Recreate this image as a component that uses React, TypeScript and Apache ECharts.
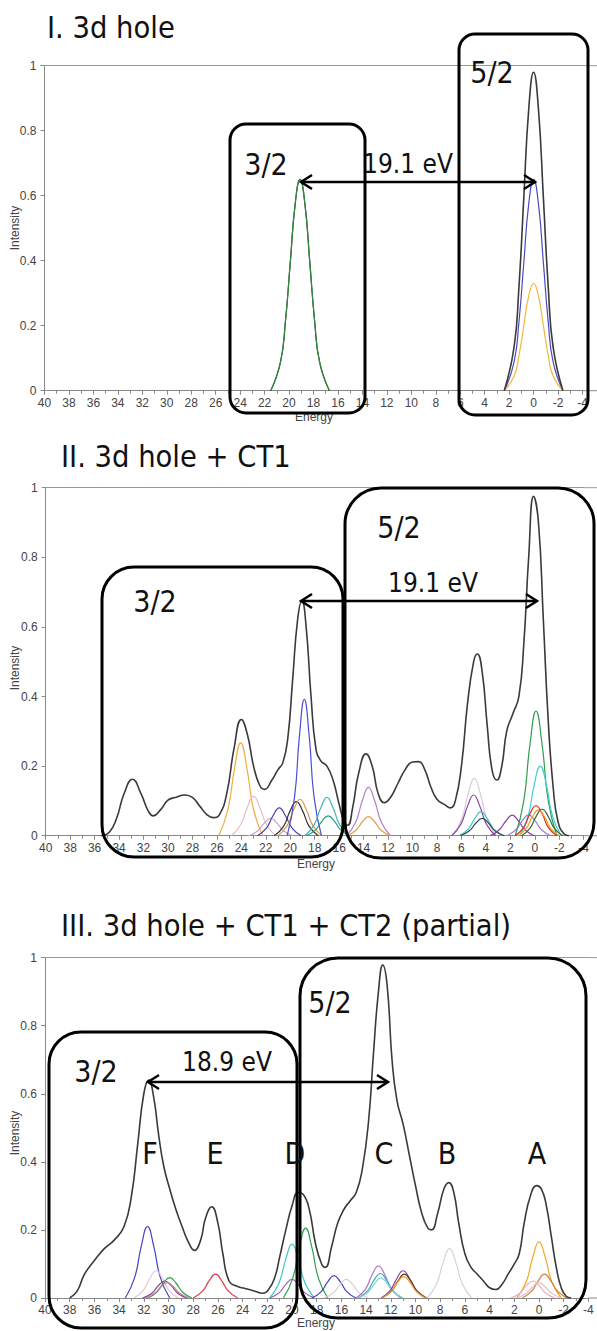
import React, { useEffect, useRef } from "react";
import * as echarts from "echarts";

// ---------- axis values ----------
const xMin = -4;
const xMax = 40;
const xInterval = 2;
const yMin = 0;
const yMax = 1;
const yInterval = 0.2;

// ---------- Panel I : 3d hole ----------
const I_black32 = [[21.5, 0], [20.7, 0.088], [20.3, 0.211], [19.9, 0.394], [19.5, 0.574], [19.1, 0.65], [18.7, 0.574], [18.3, 0.394], [17.9, 0.211], [17.5, 0.088], [16.7, 0]];
const I_green32 = [[21.5, 0], [20.7, 0.088], [20.3, 0.211], [19.9, 0.394], [19.5, 0.574], [19.1, 0.65], [18.7, 0.574], [18.3, 0.394], [17.9, 0.211], [17.5, 0.088], [16.7, 0]];
const I_black52 = [[2.4, 0], [1.6, 0.133], [1.2, 0.318], [0.8, 0.594], [0.4, 0.865], [0, 0.98], [-0.4, 0.865], [-0.8, 0.594], [-1.2, 0.318], [-1.6, 0.133], [-2.4, 0]];
const I_blue52 = [[2.4, 0], [1.6, 0.088], [1.2, 0.211], [0.8, 0.394], [0.4, 0.574], [0, 0.65], [-0.4, 0.574], [-0.8, 0.394], [-1.2, 0.211], [-1.6, 0.088], [-2.4, 0]];
const I_orange52 = [[2.4, 0], [1.6, 0.045], [1.2, 0.107], [0.8, 0.2], [0.4, 0.291], [0, 0.33], [-0.4, 0.291], [-0.8, 0.2], [-1.2, 0.107], [-1.6, 0.045], [-2.4, 0]];

// ---------- Panel II : 3d hole + CT1 ----------
const II_total = [
  [35.5, 0], [34.8, 0.01], [34.2, 0.05], [33.6, 0.12], [32.9, 0.162], [32.2, 0.12], [31.6, 0.07], [31.2, 0.057],
  [30.6, 0.075], [30.0, 0.102], [29.4, 0.11], [28.6, 0.117], [28.0, 0.11], [27.4, 0.085], [26.8, 0.06], [26.3, 0.052],
  [25.8, 0.06], [25.2, 0.12], [24.6, 0.25], [24.0, 0.334], [23.5, 0.29], [23.0, 0.2], [22.5, 0.145], [22.1, 0.133],
  [21.5, 0.16], [21.0, 0.19], [20.6, 0.21], [20.2, 0.28], [19.8, 0.45], [19.4, 0.62], [19.05, 0.675], [18.7, 0.6],
  [18.3, 0.4], [17.9, 0.25], [17.5, 0.215], [17.0, 0.2], [16.5, 0.16], [16.0, 0.09], [15.6, 0.04], [15.3, 0.03],
  [14.9, 0.08], [14.4, 0.18], [13.8, 0.235], [13.3, 0.2], [12.8, 0.12], [12.3, 0.095], [11.8, 0.11], [11.2, 0.15],
  [10.6, 0.19], [10.0, 0.212], [9.5, 0.213], [9.0, 0.19], [8.5, 0.14], [8.0, 0.105], [7.4, 0.09], [6.9, 0.08],
  [6.5, 0.1], [6.0, 0.2], [5.5, 0.38], [5.0, 0.5], [4.7, 0.522], [4.3, 0.47], [3.9, 0.32], [3.5, 0.19], [3.1, 0.16],
  [2.7, 0.2], [2.3, 0.3], [1.8, 0.35], [1.3, 0.4], [0.9, 0.55], [0.5, 0.8], [0.1, 0.975], [-0.3, 0.9], [-0.7, 0.62],
  [-1.1, 0.33], [-1.5, 0.14], [-1.9, 0.04], [-2.4, 0.005], [-2.8, 0],
];
const II_orange24 = [[25.85, 0], [25.1, 0.075], [24.55, 0.195], [24.05, 0.267], [23.55, 0.195], [23.0, 0.075], [22.25, 0]];
const II_pink23 = [[24.8, 0], [24.05, 0.032], [23.5, 0.082], [23.0, 0.113], [22.5, 0.082], [21.95, 0.032], [21.2, 0]];
const II_mauve21 = [[23.4, 0], [22.65, 0.014], [22.1, 0.037], [21.6, 0.05], [21.1, 0.037], [20.55, 0.014], [19.8, 0]];
const II_violet21 = [[22.7, 0], [21.95, 0.022], [21.4, 0.058], [20.9, 0.08], [20.4, 0.058], [19.85, 0.022], [19.1, 0]];
const II_dark19 = [[21.3, 0], [20.55, 0.027], [20.0, 0.072], [19.5, 0.098], [19.0, 0.072], [18.45, 0.027], [17.7, 0]];
const II_tan19 = [[21.0, 0], [20.25, 0.029], [19.7, 0.076], [19.2, 0.104], [18.7, 0.076], [18.15, 0.029], [17.4, 0]];
const II_blue19 = [[20.25, 0], [19.65, 0.11], [19.25, 0.286], [18.85, 0.392], [18.45, 0.286], [18.05, 0.11], [17.45, 0]];
const II_teal17 = [[18.8, 0], [18.05, 0.031], [17.5, 0.08], [17.0, 0.11], [16.5, 0.08], [15.95, 0.031], [15.2, 0]];
const II_seagreen17 = [[18.7, 0], [17.95, 0.016], [17.4, 0.042], [16.9, 0.057], [16.4, 0.042], [15.85, 0.016], [15.1, 0]];
const II_mauve14 = [[15.4, 0], [14.65, 0.039], [14.1, 0.101], [13.6, 0.139], [13.1, 0.101], [12.55, 0.039], [11.8, 0]];
const II_orange14 = [[15.4, 0], [14.65, 0.015], [14.1, 0.04], [13.6, 0.055], [13.1, 0.04], [12.55, 0.015], [11.8, 0]];
const II_grey5 = [[6.75, 0], [6.0, 0.046], [5.45, 0.12], [4.95, 0.165], [4.45, 0.12], [3.9, 0.046], [3.15, 0]];
const II_purple5 = [[6.8, 0], [6.05, 0.033], [5.5, 0.085], [5.0, 0.117], [4.5, 0.085], [3.95, 0.033], [3.2, 0]];
const II_cyan4 = [[6.2, 0], [5.45, 0.019], [4.9, 0.05], [4.4, 0.069], [3.9, 0.05], [3.35, 0.019], [2.6, 0]];
const II_darkteal4 = [[6.1, 0], [5.35, 0.014], [4.8, 0.037], [4.3, 0.05], [3.8, 0.037], [3.25, 0.014], [2.5, 0]];
const II_purple2 = [[3.65, 0], [2.9, 0.017], [2.35, 0.043], [1.85, 0.059], [1.35, 0.043], [0.8, 0.017], [0.05, 0]];
const II_violet0 = [[2.3, 0], [1.55, 0.017], [1.0, 0.044], [0.5, 0.06], [0.0, 0.044], [-0.55, 0.017], [-1.3, 0]];
const II_green0 = [[1.6, 0], [0.9, 0.1], [0.4, 0.261], [-0.1, 0.358], [-0.6, 0.261], [-1.1, 0.1], [-1.8, 0]];
const II_cyan0 = [[1.25, 0], [0.55, 0.056], [0.05, 0.146], [-0.45, 0.2], [-0.95, 0.146], [-1.45, 0.056], [-2.15, 0]];
const II_red0 = [[1.6, 0], [0.9, 0.024], [0.4, 0.063], [-0.1, 0.086], [-0.6, 0.063], [-1.1, 0.024], [-1.8, 0]];
const II_orange0 = [[1.4, 0], [0.7, 0.021], [0.2, 0.054], [-0.3, 0.074], [-0.8, 0.054], [-1.3, 0.021], [-2.0, 0]];
const II_darkgreen0 = [[1.1, 0], [0.4, 0.021], [-0.1, 0.055], [-0.6, 0.076], [-1.1, 0.055], [-1.6, 0.021], [-2.3, 0]];

// ---------- Panel III : 3d hole + CT1 + CT2 (partial) ----------
const III_total = [
  [38.0, 0], [37.4, 0.02], [36.8, 0.07], [36.0, 0.11], [35.2, 0.145], [34.4, 0.17], [33.6, 0.21], [33.0, 0.3],
  [32.5, 0.45], [32.0, 0.6], [31.6, 0.64], [31.2, 0.59], [30.8, 0.48], [30.4, 0.39], [29.9, 0.32], [29.4, 0.26],
  [28.9, 0.21], [28.4, 0.165], [27.9, 0.14], [27.4, 0.17], [27.0, 0.235], [26.5, 0.268], [26.0, 0.22], [25.6, 0.13],
  [25.1, 0.05], [24.5, 0.035], [23.8, 0.028], [23.0, 0.02], [22.4, 0.014], [21.9, 0.025], [21.4, 0.06], [21.0, 0.12],
  [20.5, 0.2], [20.0, 0.27], [19.5, 0.31], [19.1, 0.305], [18.6, 0.26], [18.1, 0.16], [17.6, 0.1], [17.3, 0.09],
  [16.8, 0.15], [16.3, 0.22], [15.8, 0.26], [15.3, 0.285], [14.8, 0.31], [14.3, 0.38], [13.8, 0.52], [13.4, 0.72],
  [13.0, 0.9], [12.65, 0.978], [12.3, 0.92], [11.9, 0.7], [11.5, 0.58], [11.0, 0.51], [10.5, 0.42], [10.0, 0.33],
  [9.5, 0.25], [9.0, 0.205], [8.7, 0.2], [8.2, 0.25], [7.7, 0.32], [7.3, 0.339], [6.9, 0.31], [6.5, 0.22], [6.0, 0.13],
  [5.5, 0.09], [5.0, 0.07], [4.5, 0.05], [4.0, 0.03], [3.5, 0.025], [3.0, 0.04], [2.5, 0.07], [2.0, 0.1], [1.6, 0.13],
  [1.2, 0.22], [0.7, 0.3], [0.2, 0.33], [-0.2, 0.32], [-0.6, 0.27], [-1.0, 0.18], [-1.4, 0.09], [-1.8, 0.03],
  [-2.2, 0.005], [-2.6, 0],
];
const III_blue32 = [[33.5, 0], [32.75, 0.059], [32.2, 0.153], [31.7, 0.21], [31.2, 0.153], [30.65, 0.059], [29.9, 0]];
const III_pink31 = [[32.8, 0], [32.05, 0.022], [31.5, 0.058], [31.0, 0.08], [30.5, 0.058], [29.95, 0.022], [29.2, 0]];
const III_purple30 = [[32.1, 0], [31.35, 0.014], [30.8, 0.037], [30.3, 0.05], [29.8, 0.037], [29.25, 0.014], [28.5, 0]];
const III_green30 = [[31.7, 0], [30.95, 0.017], [30.4, 0.044], [29.9, 0.06], [29.4, 0.044], [28.85, 0.017], [28.1, 0]];
const III_rose30 = [[31.9, 0], [31.15, 0.013], [30.6, 0.033], [30.1, 0.045], [29.6, 0.033], [29.05, 0.013], [28.3, 0]];
const III_red26 = [[28.0, 0], [27.25, 0.02], [26.7, 0.051], [26.2, 0.07], [25.7, 0.051], [25.15, 0.02], [24.4, 0]];
const III_cyan20 = [[21.8, 0], [21.05, 0.044], [20.5, 0.115], [20.0, 0.158], [19.5, 0.115], [18.95, 0.044], [18.2, 0]];
const III_green19 = [[20.7, 0], [19.95, 0.057], [19.4, 0.15], [18.9, 0.205], [18.4, 0.15], [17.85, 0.057], [17.1, 0]];
const III_purple20 = [[21.8, 0], [21.05, 0.015], [20.5, 0.04], [20.0, 0.055], [19.5, 0.04], [18.95, 0.015], [18.2, 0]];
const III_blue17 = [[18.4, 0], [17.65, 0.018], [17.1, 0.048], [16.6, 0.066], [16.1, 0.048], [15.55, 0.018], [14.8, 0]];
const III_grey16 = [[17.4, 0], [16.65, 0.015], [16.1, 0.04], [15.6, 0.055], [15.1, 0.04], [14.55, 0.015], [13.8, 0]];
const III_mauve13 = [[14.8, 0], [14.05, 0.026], [13.5, 0.069], [13.0, 0.094], [12.5, 0.069], [11.95, 0.026], [11.2, 0]];
const III_cyan13 = [[14.65, 0], [13.9, 0.02], [13.35, 0.053], [12.85, 0.072], [12.35, 0.053], [11.8, 0.02], [11.05, 0]];
const III_lightcyan13 = [[14.6, 0], [13.85, 0.017], [13.3, 0.043], [12.8, 0.059], [12.3, 0.043], [11.75, 0.017], [11.0, 0]];
const III_purple11 = [[12.8, 0], [12.05, 0.022], [11.5, 0.058], [11.0, 0.08], [10.5, 0.058], [9.95, 0.022], [9.2, 0]];
const III_brown11 = [[12.7, 0], [11.95, 0.02], [11.4, 0.051], [10.9, 0.07], [10.4, 0.051], [9.85, 0.02], [9.1, 0]];
const III_orange11 = [[12.75, 0], [12.0, 0.018], [11.45, 0.046], [10.95, 0.063], [10.45, 0.046], [9.9, 0.018], [9.15, 0]];
const III_grey7 = [[9.05, 0], [8.3, 0.041], [7.75, 0.106], [7.25, 0.145], [6.75, 0.106], [6.2, 0.041], [5.45, 0]];
const III_orange0 = [[1.8, 0], [1.05, 0.046], [0.5, 0.12], [0, 0.165], [-0.5, 0.12], [-1.05, 0.046], [-1.8, 0]];
const III_brown0 = [[1.35, 0], [0.6, 0.02], [0.05, 0.051], [-0.45, 0.07], [-0.95, 0.051], [-1.5, 0.02], [-2.25, 0]];
const III_pink0 = [[2.3, 0], [1.55, 0.014], [1.0, 0.037], [0.5, 0.05], [0.0, 0.037], [-0.55, 0.014], [-1.3, 0]];
const III_rose0 = [[1.8, 0], [1.05, 0.013], [0.5, 0.033], [0, 0.045], [-0.5, 0.033], [-1.05, 0.013], [-1.8, 0]];

// ---------- styling (colours per curve) ----------
const BLACK = "#3a3a3a";
const panelCurves: { data: number[][]; color: string; total?: boolean }[][] = [
  [
    { data: I_black32, color: BLACK },
    { data: I_green32, color: "#2e8a3c" },
    { data: I_black52, color: BLACK, total: true },
    { data: I_blue52, color: "#4a4ac0" },
    { data: I_orange52, color: "#f2b640" },
  ],
  [
    { data: II_orange24, color: "#f2a93b" },
    { data: II_pink23, color: "#e8bcc8" },
    { data: II_mauve21, color: "#c9a0d0" },
    { data: II_violet21, color: "#4b3fb0" },
    { data: II_dark19, color: "#333333" },
    { data: II_tan19, color: "#d49a50" },
    { data: II_blue19, color: "#4d4dd6" },
    { data: II_teal17, color: "#3fb6b6" },
    { data: II_seagreen17, color: "#1f9e80" },
    { data: II_mauve14, color: "#b57fc9" },
    { data: II_orange14, color: "#e0a048" },
    { data: II_grey5, color: "#d8cad8" },
    { data: II_purple5, color: "#8a3f9e" },
    { data: II_cyan4, color: "#45c4c4" },
    { data: II_darkteal4, color: "#224c4c" },
    { data: II_purple2, color: "#8a3f9e" },
    { data: II_violet0, color: "#9b7fd4" },
    { data: II_green0, color: "#2f9e4f" },
    { data: II_cyan0, color: "#40d0d0" },
    { data: II_red0, color: "#e02828" },
    { data: II_orange0, color: "#f5a020" },
    { data: II_darkgreen0, color: "#3d6b3d" },
    { data: II_total, color: BLACK, total: true },
  ],
  [
    { data: III_blue32, color: "#4545c0" },
    { data: III_pink31, color: "#e8c8d0" },
    { data: III_purple30, color: "#8a3f9e" },
    { data: III_green30, color: "#2f9e4f" },
    { data: III_rose30, color: "#d08098" },
    { data: III_red26, color: "#e03a4a" },
    { data: III_cyan20, color: "#40c8c8" },
    { data: III_green19, color: "#2f9e4f" },
    { data: III_purple20, color: "#9a5ab8" },
    { data: III_blue17, color: "#4545c0" },
    { data: III_grey16, color: "#d0d0d0" },
    { data: III_mauve13, color: "#b070c8" },
    { data: III_cyan13, color: "#3fb0c0" },
    { data: III_lightcyan13, color: "#80d4d4" },
    { data: III_purple11, color: "#8a3f9e" },
    { data: III_brown11, color: "#5a3a1a" },
    { data: III_orange11, color: "#f0a030" },
    { data: III_grey7, color: "#d4d4d4" },
    { data: III_orange0, color: "#f5a623" },
    { data: III_brown0, color: "#d08040" },
    { data: III_pink0, color: "#e8b0c0" },
    { data: III_rose0, color: "#e6c0c8" },
    { data: III_total, color: BLACK, total: true },
  ],
];

const grids = [
  { left: 44.5, top: 65.7, width: 538, height: 325 },
  { left: 45.7, top: 487.7, width: 538, height: 348 },
  { left: 45, top: 957.6, width: 543.4, height: 340.4 },
];

const TITLE_FONT = '"DejaVu Sans Condensed", "DejaVu Sans", sans-serif';
const AXIS_FONT = '"Liberation Sans", Arial, sans-serif';

function txt(text: string, x: number, y: number, size: number, align = "center") {
  return {
    type: "text",
    x,
    y,
    z: 100,
    style: { text, fontSize: size, fontFamily: TITLE_FONT, fill: "#111", align, verticalAlign: "middle" },
  };
}
function box(x: number, y: number, w: number, h: number, r: number) {
  return {
    type: "rect",
    z: 100,
    shape: { x, y, width: w, height: h, r },
    style: { fill: "transparent", stroke: "#000", lineWidth: 3 },
  };
}
function arrow(x1: number, x2: number, y: number) {
  const s = { stroke: "#000", lineWidth: 2.5, fill: "transparent" };
  return [
    { type: "line", z: 100, shape: { x1, y1: y, x2, y2: y }, style: s },
    { type: "polyline", z: 100, shape: { points: [[x1 + 11, y - 7], [x1, y], [x1 + 11, y + 7]] }, style: s },
    { type: "polyline", z: 100, shape: { points: [[x2 - 11, y - 7], [x2, y], [x2 - 11, y + 7]] }, style: s },
  ];
}
function axisText(text: string, x: number, y: number, rot = 0) {
  return {
    type: "text",
    x,
    y,
    rotation: rot,
    z: 50,
    style: { text, fontSize: 12, fontFamily: AXIS_FONT, fill: "#444", align: "center", verticalAlign: "middle" },
  };
}

export default function App() {
  const ref = useRef<HTMLDivElement>(null);
  useEffect(() => {
    if (!ref.current) return;
    const chart = echarts.init(ref.current, undefined, { renderer: "svg" });

    const xAxis: any[] = [];
    const yAxis: any[] = [];
    grids.forEach((_, i) => {
      xAxis.push({
        type: "value",
        gridIndex: i,
        min: xMin,
        max: xMax,
        interval: xInterval,
        inverse: true,
        position: "bottom",
        axisLine: { show: true, onZero: false, lineStyle: { color: "#888", width: 1 } },
        axisTick: { show: true, length: 4, lineStyle: { color: "#888" } },
        minorTick: { show: true, splitNumber: 2, length: 3, lineStyle: { color: "#888" } },
        axisLabel: { color: "#444", fontSize: 12, fontFamily: AXIS_FONT, margin: 6 },
        splitLine: { show: false },
      });
      xAxis.push({
        type: "value",
        gridIndex: i,
        min: xMin,
        max: xMax,
        inverse: true,
        position: "top",
        axisLine: { show: true, onZero: false, lineStyle: { color: "#999", width: 1 } },
        axisTick: { show: false },
        axisLabel: { show: false },
        splitLine: { show: false },
      });
      yAxis.push({
        type: "value",
        gridIndex: i,
        min: yMin,
        max: yMax,
        interval: yInterval,
        position: "left",
        axisLine: { show: true, onZero: false, lineStyle: { color: "#888", width: 1 } },
        axisTick: { show: true, length: 4, lineStyle: { color: "#888" } },
        axisLabel: { color: "#444", fontSize: 12, fontFamily: AXIS_FONT, margin: 8 },
        splitLine: { show: false },
      });
    });

    const series: any[] = [];
    panelCurves.forEach((curves, i) => {
      curves.forEach((c) => {
        series.push({
          type: "line",
          xAxisIndex: i * 2,
          yAxisIndex: i,
          data: c.data,
          smooth: true,
          symbol: "none",
          silent: true,
          z: c.total ? 3 : 2,
          lineStyle: { color: c.color, width: c.total ? 1.6 : 1.2 },
        });
      });
    });

    const ext: any[] = [];
    grids.forEach((g) => {
      const xr = g.left + g.width;
      ext.push({ type: "line", shape: { x1: xr, y1: g.top + g.height, x2: 597, y2: g.top + g.height }, style: { stroke: "#888", lineWidth: 1 } });
      ext.push({ type: "line", shape: { x1: xr, y1: g.top, x2: 597, y2: g.top }, style: { stroke: "#999", lineWidth: 1 } });
    });

    const T = 30.5;
    const graphic: any[] = [
      ...ext,
      txt("I. 3d hole", 47, 27, T, "left"),
      txt("II. 3d hole + CT1", 61, 456, T, "left"),
      txt("III. 3d hole + CT1 + CT2 (partial)", 61, 925, T, "left"),
      axisText("Intensity", 15, 228, Math.PI / 2),
      axisText("Intensity", 15, 668, Math.PI / 2),
      axisText("Intensity", 15, 1133, Math.PI / 2),
      axisText("Energy", 314, 417),
      axisText("Energy", 316, 864),
      axisText("Energy", 316, 1323),
      // Panel I
      box(230, 124, 135, 289, 16),
      box(459, 34, 129, 381, 16),
      txt("3/2", 266, 164, 30),
      txt("5/2", 492, 72, 30),
      txt("19.1 eV", 408, 164, 26),
      ...arrow(301, 535, 182),
      // Panel II
      box(102, 567, 241, 290, 32),
      box(345, 488, 249, 370, 36),
      txt("3/2", 155, 601, 30),
      txt("5/2", 399, 527, 30),
      txt("19.1 eV", 433, 583, 26),
      ...arrow(301, 537, 601),
      // Panel III
      box(49, 1032, 248, 296, 32),
      box(300, 958, 286, 360, 38),
      txt("3/2", 96, 1071, 30),
      txt("5/2", 330, 1002, 30),
      txt("18.9 eV", 227, 1062, 26),
      ...arrow(148, 388, 1082),
      txt("F", 150, 1153, 30),
      txt("E", 215, 1153, 30),
      txt("D", 295, 1153, 30),
      txt("C", 384, 1153, 30),
      txt("B", 447, 1153, 30),
      txt("A", 537, 1153, 30),
    ];

    chart.setOption({
      animation: false,
      backgroundColor: "#fff",
      grid: grids.map((g) => ({ ...g, containLabel: false })),
      xAxis,
      yAxis,
      series,
      graphic,
    });
    return () => chart.dispose();
  }, []);
  return <div ref={ref} style={{ position: "absolute", left: 0, top: 0, width: 597, height: 1331 }} />;
}
